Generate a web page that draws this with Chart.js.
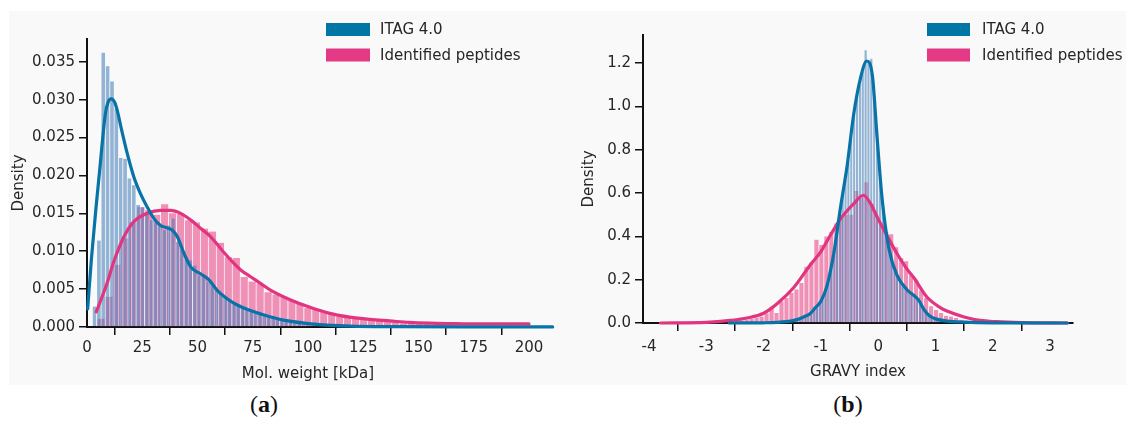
<!DOCTYPE html>
<html>
<head>
<meta charset="utf-8">
<script src="https://cdn.jsdelivr.net/npm/chart.js@4.4.1/dist/chart.umd.min.js"></script>
<style>
  body { margin: 0; width: 1126px; height: 424px; background: #fff; position: relative; overflow: hidden; }
  #panel { position: absolute; left: 9px; top: 11px; width: 1117px; height: 374px; background: #f9f9f9; }
  #mw { position: absolute; left: 0; top: 11px; }
  #gravy { position: absolute; left: 560px; top: 11px; }
  .cap { position: absolute; top: 391px; font: 24px "Liberation Serif", serif; color: #111; transform: translateX(-50%); }
</style>
</head>
<body>
<div id="panel"></div>
<canvas id="mw" width="560" height="374"></canvas>
<canvas id="gravy" width="566" height="374"></canvas>
<div class="cap" style="left:264px">(<b>a</b>)</div>
<div class="cap" style="left:848px">(<b>b</b>)</div>
<script>
// series names
const seriesNames = ['ITAG 4.0', 'Identified peptides'];

// (a) molecular weight histograms (density per bin)
const mwBinStartItag = 2.3, mwBinWidthItag = 1.97;
const mwHistItag = [
  0.0027, 0.0114, 0.0362, 0.0344, 0.0324, 0.0288, 0.0223, 0.0222, 0.0196, 0.0187,
  0.0161, 0.0158, 0.0152, 0.0141, 0.0138, 0.0136, 0.0128, 0.0134, 0.0143, 0.0112,
  0.0103, 0.0092, 0.0088, 0.0081, 0.0068, 0.0066, 0.0060, 0.0055, 0.0050, 0.0044,
  0.0040, 0.0035, 0.0032, 0.0029, 0.0026, 0.0024, 0.0022, 0.0019, 0.0017, 0.0015,
  0.0013, 0.0012, 0.0011, 0.0010, 0.0009, 0.0008, 0.0007, 0.0007, 0.0006, 0.0006,
  0.0005, 0.0005, 0.0004, 0.0004, 0.0004, 0.0003, 0.0003, 0.0003, 0.0003, 0.0002,
  0.0002, 0.0002, 0.0002, 0.0002, 0.0001, 0.0001, 0.0001, 0.0001, 0.0001, 0.0001
];
const mwBinStartPep = 4.4, mwBinWidthPep = 3.6;
const mwHistPep = [
  0.0011, 0.0040, 0.0082, 0.0117, 0.0138, 0.0158, 0.0154, 0.0148, 0.0162, 0.0150,
  0.0149, 0.0141, 0.0138, 0.0130, 0.0126, 0.0111, 0.0092, 0.0091, 0.0066, 0.0060,
  0.0057, 0.0046, 0.0043, 0.0040, 0.0035, 0.0031, 0.0025, 0.0024, 0.0020, 0.0018,
  0.0014, 0.0013, 0.0011, 0.0010, 0.0009, 0.0008, 0.0007, 0.0006, 0.0005, 0.0005,
  0.0004, 0.0004, 0.0003, 0.0003, 0.0003, 0.0002, 0.0002, 0.0002, 0.0002, 0.0002,
  0.0001, 0.0002, 0.0001, 0.0001, 0.0001, 0.0001, 0.0001
];
// (a) kde curves
const mwKdeItagX = [0.3, 2, 4.1, 6, 8.3, 9.6, 11, 12.6, 14, 15.5, 18.2, 21.2, 24.2, 27.3, 30.3, 33.3, 36, 38.5,
  40.9, 43.9, 47, 51.5, 55.3, 59, 63.6, 68, 72.7, 78.8, 88.9, 104, 119, 140, 170, 210.7];
const mwKdeItagY = [0.0024, 0.009, 0.0158, 0.0215, 0.0281, 0.0297, 0.0301, 0.0296, 0.0282, 0.0262, 0.0229, 0.0198,
  0.0176, 0.0158, 0.0143, 0.0134, 0.0131, 0.0128, 0.0119, 0.0097, 0.0079, 0.0070, 0.0062, 0.0048, 0.0037, 0.0029,
  0.0023, 0.0017, 0.0009, 0.00035, 0.00012, 0.00004, 0.00001, 0.00001];
const mwKdePepX = [4.2, 9, 12.1, 16.7, 21.2, 27.3, 33.3, 37.9, 42.4, 47, 51.5, 56, 60.6, 65.2, 69.7, 74.2, 78.8,
  82.8, 91.9, 100.9, 109.9, 118.9, 128, 137, 146, 155, 164, 179, 200, 210.7];
const mwKdePepY = [0.0020, 0.0057, 0.0086, 0.0119, 0.0139, 0.0150, 0.0154, 0.0154, 0.0150, 0.0141, 0.0130, 0.0119,
  0.0103, 0.0088, 0.0075, 0.0066, 0.0057, 0.0049, 0.0036, 0.0026, 0.0018, 0.0013, 0.0010, 0.0008, 0.0006,
  0.0005, 0.00045, 0.0004, 0.0004, 0.0004];
const mwXTicks = [0, 25, 50, 75, 100, 125, 150, 175, 200];
const mwYTicks = [0, 0.005, 0.010, 0.015, 0.020, 0.025, 0.030, 0.035];

// (b) GRAVY histograms
const gravyBinStartItag = -1.6, gravyBinWidthItag = 0.05;
const gravyHistItag = [
  0.006, 0.008, 0.012, 0.016, 0.022, 0.027, 0.034, 0.042, 0.050, 0.068,
  0.080, 0.100, 0.120, 0.150, 0.200, 0.260, 0.330, 0.420, 0.500, 0.600,
  0.660, 0.750, 0.860, 0.970, 1.040, 1.100, 1.160, 1.260, 1.210, 1.220,
  1.050, 0.900, 0.720, 0.560, 0.440, 0.360, 0.300, 0.250, 0.220, 0.190,
  0.170, 0.155, 0.140, 0.130, 0.125, 0.110, 0.100, 0.075, 0.055, 0.040,
  0.030, 0.022, 0.017, 0.013, 0.010, 0.008, 0.007, 0.005
];
const gravyBinStartPep = -2.606, gravyBinWidthPep = 0.087;
const gravyHistPep = [
  0.008, 0.010, 0.012, 0.016, 0.020, 0.025, 0.030, 0.045, 0.075, 0.046,
  0.100, 0.115, 0.140, 0.155, 0.185, 0.260, 0.280, 0.385, 0.360, 0.400,
  0.420, 0.460, 0.480, 0.500, 0.500, 0.610, 0.580, 0.650, 0.550, 0.500,
  0.460, 0.420, 0.410, 0.350, 0.300, 0.285, 0.220, 0.200, 0.150, 0.115,
  0.077, 0.060, 0.046, 0.034, 0.030, 0.023, 0.015, 0.010, 0.007
];
// (b) kde curves
const gravyKdeItagX = [-2.6, -2.0, -1.6, -1.47, -1.3, -1.18, -1.1, -1.0, -0.89, -0.77, -0.66, -0.54, -0.43, -0.31,
  -0.2, -0.1, -0.02, 0.07, 0.19, 0.33, 0.5, 0.62, 0.7, 0.8, 0.9, 1.0, 1.2, 1.5, 2.0, 3.3];
const gravyKdeItagY = [0.0, 0.001, 0.006, 0.012, 0.028, 0.045, 0.07, 0.1, 0.175, 0.33, 0.53, 0.73, 0.96, 1.13,
  1.21, 1.14, 0.86, 0.57, 0.34, 0.22, 0.155, 0.128, 0.108, 0.062, 0.032, 0.019, 0.009, 0.004, 0.001, 0.0];
const gravyKdePepX = [-3.8, -3.0, -2.58, -2.29, -2.0, -1.76, -1.47, -1.18, -1.0, -0.89, -0.66, -0.43, -0.26, -0.13,
  -0.02, 0.16, 0.33, 0.5, 0.62, 0.85, 1.09, 1.2, 1.5, 1.78, 2.07, 2.5, 3.3];
const gravyKdePepY = [0.0, 0.003, 0.012, 0.023, 0.045, 0.09, 0.165, 0.27, 0.33, 0.38, 0.48, 0.55, 0.59, 0.55,
  0.49, 0.40, 0.32, 0.25, 0.21, 0.12, 0.07, 0.055, 0.028, 0.012, 0.006, 0.002, 0.0];
const gravyXTicks = [-4, -3, -2, -1, 0, 1, 2, 3];
const gravyYTicks = [0, 0.2, 0.4, 0.6, 0.8, 1.0, 1.2];

const BLUE = '#0773a7', PINK = '#e1357f';
const TXT = '#262626';
Chart.defaults.font.family = '"DejaVu Sans"';
Chart.defaults.font.size = 15;
Chart.defaults.color = TXT;

// legend drawn as boxes + labels at a fixed place inside the plot
const boxLegend = {
  id: 'boxLegend',
  afterDraw(chart, args, o) {
    const ctx = chart.ctx;
    ctx.save();
    ctx.font = '15px "DejaVu Sans"';
    ctx.textBaseline = 'middle';
    o.items.forEach((it, i) => {
      const y = o.top + i * o.rowGap;
      ctx.fillStyle = it.color;
      ctx.fillRect(o.left, y, o.boxW, o.boxH);
      ctx.fillStyle = TXT;
      ctx.fillText(it.label, o.left + o.boxW + o.gap, y + o.boxH / 2 + 1);
    });
    ctx.restore();
  }
};

function histSet(label, start, width, heights, color, axis, order, edge) {
  return {
    type: 'bar', label, xAxisID: axis, order, grouped: false,
    data: heights.map((h, i) => ({ x: start + width * (i + 0.5), y: h })),
    backgroundColor: color,
    borderColor: edge,
    borderWidth: { left: 1, right: 0, top: 0, bottom: 0 },
    barPercentage: 1, categoryPercentage: 1
  };
}

function kdeSet(label, xs, ys, color, order) {
  return {
    type: 'line', label, xAxisID: 'x', order,
    data: xs.map((x, i) => ({ x, y: ys[i] })),
    borderColor: color, borderWidth: 3.2, pointRadius: 0, fill: false,
    cubicInterpolationMode: 'monotone', clip: false, borderCapStyle: 'round'
  };
}

function axisStyle() {
  return {
    grid: { display: true, drawOnChartArea: false, drawTicks: true, tickLength: 8, color: '#111', lineWidth: 1.5 },
    border: { display: true, color: '#111', width: 2 }
  };
}

function makeChart(id, o) {
  return new Chart(document.getElementById(id), {
    type: 'line',
    data: { datasets: o.datasets },
    options: {
      responsive: false, animation: false, events: [], devicePixelRatio: 1,
      layout: { padding: { left: 0, top: o.padTop, right: o.padRight, bottom: 0 } },
      plugins: { legend: { display: false }, tooltip: { enabled: false }, boxLegend: o.legend },
      scales: {
        x: Object.assign(axisStyle(), {
          type: 'linear', min: o.xMin, max: o.xMax, offset: false,
          afterBuildTicks: s => { s.ticks = o.xTicks.map(v => ({ value: v })); },
          afterFit: s => { s.height = o.xHeight; },
          ticks: { padding: o.xPad, maxRotation: 0, autoSkip: false, callback: v => String(v) },
          title: { display: true, text: o.xTitle, padding: { top: 0, bottom: o.xTitlePad } }
        }),
        x2: { type: 'linear', display: false, min: o.xMin, max: o.xMax, offset: false },
        y: Object.assign(axisStyle(), {
          type: 'linear', min: 0, max: o.yMax,
          afterBuildTicks: s => { s.ticks = o.yTicks.map(v => ({ value: v })); },
          afterFit: s => { s.width = o.yWidth; },
          ticks: { padding: 4, callback: v => v.toFixed(o.yDec) },
          title: { display: true, text: 'Density', padding: { top: o.yTitlePad, bottom: 0 } }
        })
      }
    },
    plugins: [boxLegend]
  });
}

const legendItems = [{ label: seriesNames[0], color: '#0076a5' }, { label: seriesNames[1], color: '#e43a85' }];
const barBlue = 'rgba(62,122,182,0.55)', barPink = 'rgba(232,60,130,0.55)';

makeChart('mw', {
  datasets: [
    kdeSet(seriesNames[0], mwKdeItagX, mwKdeItagY, BLUE, 0),
    kdeSet(seriesNames[1], mwKdePepX, mwKdePepY, PINK, 1),
    histSet(seriesNames[0], mwBinStartItag, mwBinWidthItag, mwHistItag, barBlue, 'x', 2, 'rgba(255,255,255,0.35)'),
    histSet(seriesNames[1], mwBinStartPep, mwBinWidthPep, mwHistPep, barPink, 'x2', 3, 'rgba(255,255,255,0.45)')
  ],
  xMin: 0, xMax: 200, xTicks: mwXTicks, xTitle: 'Mol. weight [kDa]',
  yMax: 0.038, yTicks: mwYTicks, yDec: 3,
  padTop: 28, padRight: 31, xHeight: 58, yWidth: 87,
  xPad: 4, xTitlePad: 2, yTitlePad: 10,
  legend: { items: legendItems, left: 326, top: 12, boxW: 44, boxH: 13, rowGap: 25.5, gap: 10 }
});

makeChart('gravy', {
  datasets: [
    kdeSet(seriesNames[0], gravyKdeItagX, gravyKdeItagY, BLUE, 0),
    kdeSet(seriesNames[1], gravyKdePepX, gravyKdePepY, PINK, 1),
    histSet(seriesNames[0], gravyBinStartItag, gravyBinWidthItag, gravyHistItag, barBlue, 'x', 2, 'rgba(255,255,255,0.25)'),
    histSet(seriesNames[1], gravyBinStartPep, gravyBinWidthPep, gravyHistPep, barPink, 'x2', 3, 'rgba(255,255,255,0.45)')
  ],
  xMin: -4.105, xMax: 3.4, xTicks: gravyXTicks, xTitle: 'GRAVY index',
  yMax: 1.33, yTicks: gravyYTicks, yDec: 1,
  padTop: 24, padRight: 53, xHeight: 62, yWidth: 83,
  xPad: 7, xTitlePad: 4, yTitlePad: 20,
  legend: { items: legendItems, left: 367, top: 12, boxW: 43, boxH: 13, rowGap: 25.5, gap: 12 }
});
</script>
</body>
</html>
